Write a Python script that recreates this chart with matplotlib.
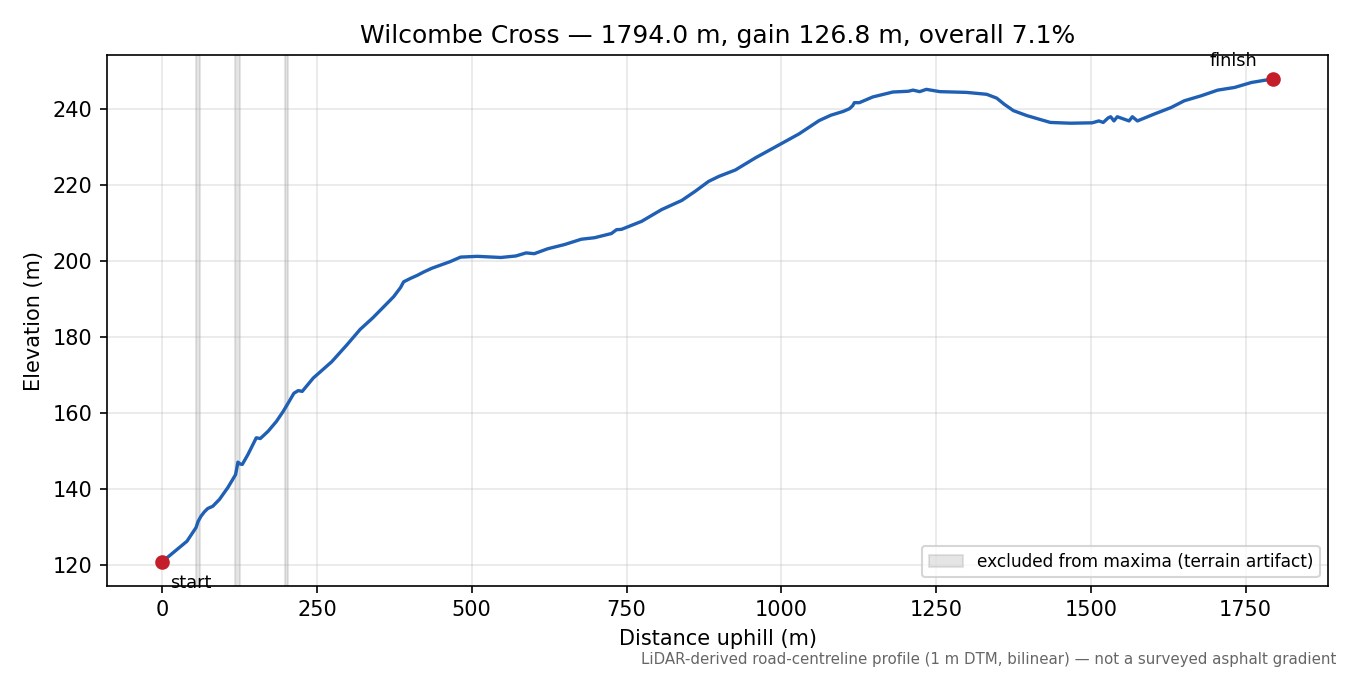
import numpy as np
import matplotlib
matplotlib.use("Agg")
from matplotlib import pyplot as plt

route = "Wilcombe Cross"

# Profile (distance uphill m, elevation m)
dist = [0, 20, 40, 54.7, 58, 62.8, 68, 73.5, 81.7, 92.5, 106, 118.5, 120.5, 122.3,
        126, 129.4, 138.5, 152, 158.5, 171, 184.5, 195.3, 203.4, 212.7, 219.7,
        226.2, 244, 273.9, 298.2, 319.8, 340, 357.6, 373.9, 385, 390, 401, 412,
        422.6, 436, 449.7, 465, 482, 509, 547, 571.4, 587.7, 601, 622.9, 649.9,
        677, 698.5, 725.6, 733.8, 741.9, 774.4, 806.8, 839.3, 860.9, 882.6, 898.9,
        925.8, 958.3, 990.8, 1028.7, 1061.2, 1080, 1100, 1110, 1115.3, 1118,
        1126.1, 1147.7, 1180.2, 1205, 1212.7, 1223.5, 1234.3, 1256, 1299.2,
        1331.7, 1347.9, 1360, 1375, 1396.6, 1434.6, 1467, 1502.1, 1512.9, 1520,
        1528, 1532, 1537.3, 1542.7, 1561.7, 1567.1, 1575.2, 1602.3, 1629.3, 1651,
        1678, 1705, 1732.1, 1759.2, 1781, 1794]
elev = [120.9, 123.6, 126.3, 129.9, 131.5, 132.9, 134.0, 134.9, 135.5, 137.3,
        140.4, 143.8, 145.5, 147.1, 146.6, 146.5, 149.1, 153.5, 153.3, 155.2,
        157.8, 160.4, 162.6, 165.2, 165.9, 165.7, 169.2, 173.5, 177.9, 182.0,
        185.0, 187.9, 190.6, 193.0, 194.5, 195.4, 196.2, 197.1, 198.1, 198.9,
        199.8, 201.0, 201.2, 200.9, 201.3, 202.1, 201.9, 203.2, 204.3, 205.7,
        206.1, 207.2, 208.2, 208.3, 210.4, 213.5, 215.9, 218.3, 220.9, 222.2,
        223.9, 227.1, 230.0, 233.4, 236.9, 238.3, 239.3, 240.0, 240.8, 241.6,
        241.6, 243.1, 244.4, 244.6, 244.9, 244.5, 245.1, 244.5, 244.3, 243.8,
        242.8, 241.2, 239.5, 238.2, 236.4, 236.2, 236.3, 236.8, 236.4, 237.6,
        237.9, 236.8, 237.9, 236.8, 237.9, 236.8, 238.6, 240.3, 242.1, 243.4,
        244.9, 245.6, 246.9, 247.5, 247.7]

# Ranges left out of the maxima search
excluded = [(55, 61), (117, 126), (198, 204)]

dist = np.array(dist)
elev = np.array(elev)
gain = elev[-1] - elev[0]
grade = gain / dist[-1] * 100

fig, ax = plt.subplots(figsize=(9, 4.5), dpi=150)
fig.subplots_adjust(left=0.079, right=0.984, top=0.918, bottom=0.132)

for i, (a, b) in enumerate(excluded):
    ax.axvspan(a, b, facecolor="0.55", edgecolor="0.55", alpha=0.22, lw=1,
               label="excluded from maxima (terrain artifact)" if i == 0 else None)

ax.plot(dist, elev, color="#1f5fb4", lw=1.6)
ax.plot([dist[0], dist[-1]], [elev[0], elev[-1]], "o", color="#c41e2a", ms=6)
ax.annotate("start", (dist[0], elev[0]), xytext=(4, -10), textcoords="offset points",
            ha="left", va="center", fontsize=8.5)
ax.annotate("finish", (dist[-1], elev[-1]), xytext=(-19, 9), textcoords="offset points",
            ha="center", va="center", fontsize=8.5)

ax.grid(True, alpha=0.3)
ax.set_xlabel("Distance uphill (m)")
ax.set_ylabel("Elevation (m)")
ax.set_title(f"{route} — {dist[-1]:.1f} m, gain {gain:.1f} m, overall {grade:.1f}%")
ax.legend(loc="lower right", fontsize=8.2)

fig.text(0.99, 0.012,
         "LiDAR-derived road-centreline profile (1 m DTM, bilinear) — not a surveyed asphalt gradient",
         ha="right", va="bottom", fontsize=7.2, color="0.4")

fig.savefig("out.png", dpi=150)
